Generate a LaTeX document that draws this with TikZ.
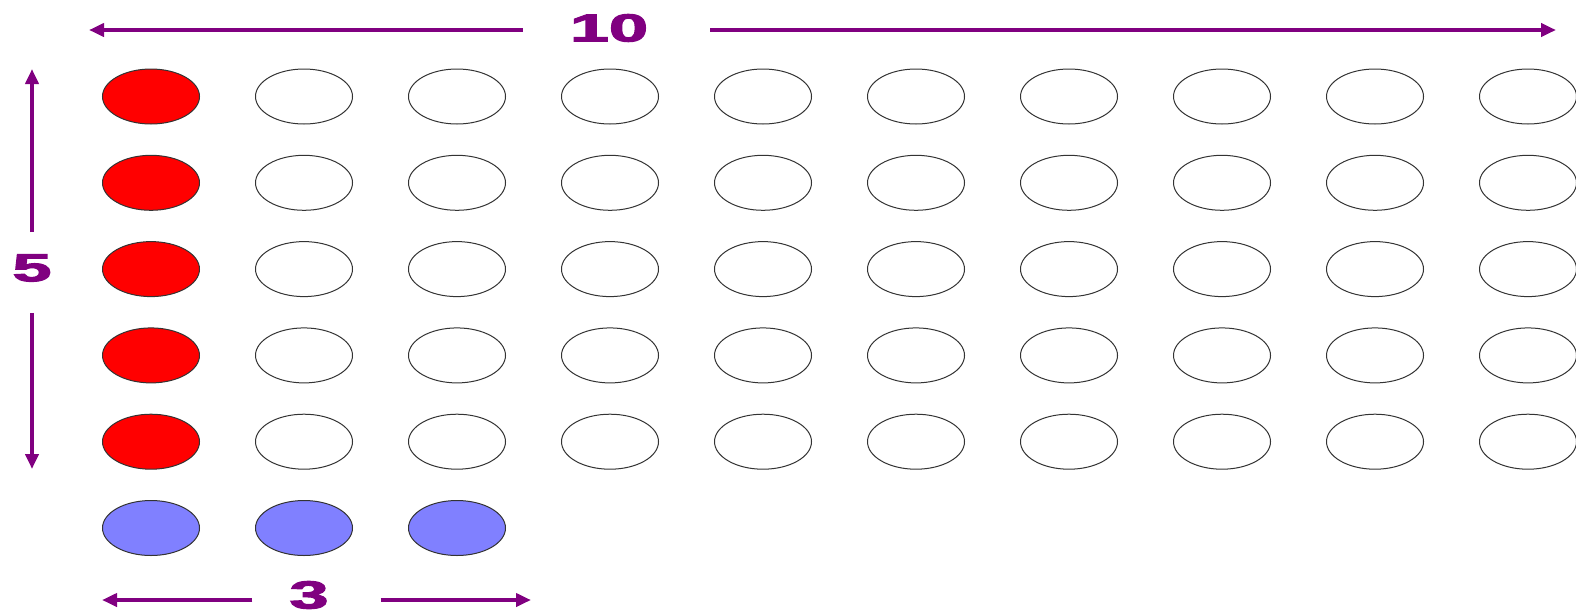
\documentclass[tikz,border=0pt]{standalone}
\usepackage{fontspec}
\setmainfont{Liberation Sans}
\newfontfamily\dimfont{Liberation Sans}[BoldFeatures={FakeBold=2.5}]
\usetikzlibrary{positioning, arrows.meta, shapes.geometric, calc}
\definecolor{dotred}{RGB}{255,0,0}
\definecolor{dotblue}{RGB}{128,128,255}
\definecolor{dimpurple}{RGB}{128,0,128}

\begin{document}
\begin{tikzpicture}[
    x=1pt, y=-1pt,
    every node/.style={align=center},
    dot/.style={ellipse, draw=black!80, line width=1pt, minimum width=97pt, minimum height=55pt, inner sep=0pt},
    dim/.style={draw=dimpurple, line width=3.8pt, -{Triangle[length=15pt, width=13pt]}},
    dimlabel/.style={text=dimpurple, font=\dimfont\fontsize{39}{39}\selectfont\bfseries, inner sep=0pt}
]
    \useasboundingbox (0,0) rectangle (1576,614);

    % five rows of ten, first column red
    \foreach \r in {1,...,5} {
        \foreach \c in {1,...,10} {
            \ifnum\c=1 \def\fc{dotred}\else\def\fc{white}\fi
            \node[dot, fill=\fc] (d\r-\c) at ({151+153*(\c-1)}, {96.5+86.3*(\r-1)}) {};
        }
    }
    % extra row of three
    \foreach \c in {1,2,3}
        \node[dot, fill=dotblue] (b\c) at ({151+153*(\c-1)}, 528) {};

    \node[dimlabel] (ten) at (609,28) {\scalebox{1.8}[1]{10}};
    \node[dimlabel] (five) at (32,268) {\scalebox{1.8}[1]{5}};
    \node[dimlabel] (three) at (309,595) {\scalebox{1.8}[1]{3}};

    \coordinate (tenL) at (89,30);
    \coordinate (tenR) at (1556,30);
    \coordinate (fiveU) at (32,69);
    \coordinate (fiveD) at (32,469);
    \coordinate (threeL) at (102,600);
    \coordinate (threeR) at (531,600);

    \draw[dim] ($(ten.west)+(-47,2)$) -- (tenL);
    \draw[dim] ($(ten.east)+(62,2)$) -- (tenR);
    \draw[dim] ($(five.north)+(0,-22)$) -- (fiveU);
    \draw[dim] ($(five.south)+(0,31)$) -- (fiveD);
    \draw[dim] ($(three.west)+(-37,5)$) -- (threeL);
    \draw[dim] ($(three.east)+(52,5)$) -- (threeR);
\end{tikzpicture}
\end{document}
